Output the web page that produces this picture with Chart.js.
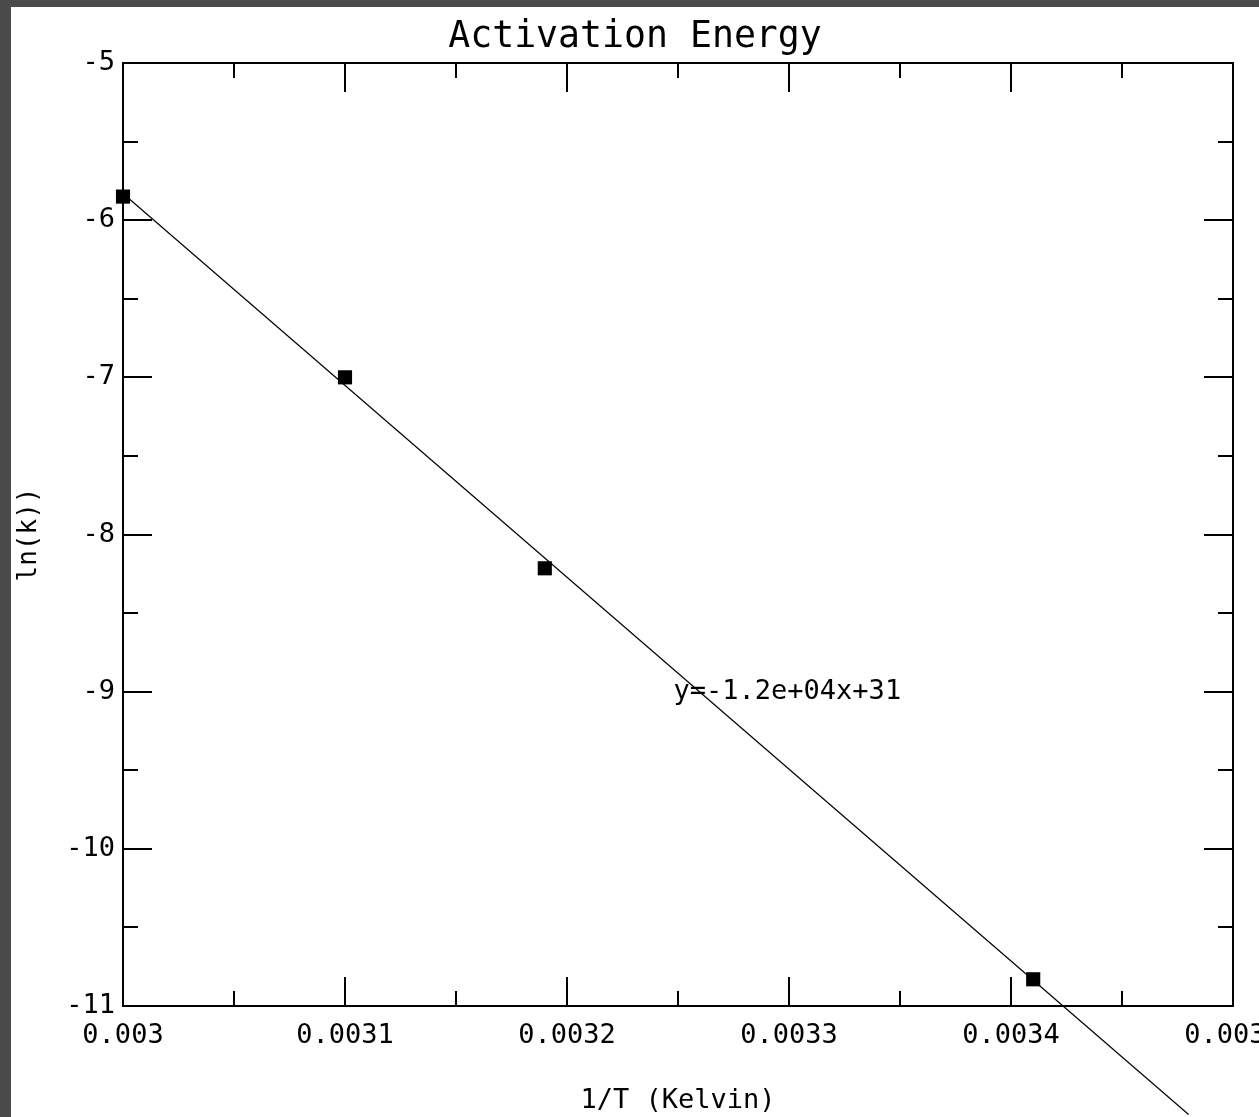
<!DOCTYPE html>
<html>
<head>
<meta charset="utf-8">
<script src="https://cdn.jsdelivr.net/npm/chart.js@4/dist/chart.umd.min.js"></script>
<style>
    html, body { margin: 0; padding: 0; background: #4b4b4b; overflow: hidden; }
    #wrap { position: absolute; left: 11px; top: 7px; width: 1248px; height: 1110px; background: #ffffff; }
</style>
</head>
<body>
<div id="wrap"><canvas id="chart"></canvas></div>
<script>
// measured points
const invT = [0.003, 0.0031, 0.00319, 0.00341];
const lnK = [-5.85, -7.0, -8.215, -10.83];

// fitted line (two end points)
const fitX = [0.003, 0.00348];
const fitY = [-5.83, -11.69];

// ticks
const xTicks = [0.003, 0.0031, 0.0032, 0.0033, 0.0034, 0.0035];
const xTickLabels = ['0.003', '0.0031', '0.0032', '0.0033', '0.0034', '0.0035'];
const xMinor = [0.00305, 0.00315, 0.00325, 0.00335, 0.00345];
const yTicks = [-11, -10, -9, -8, -7, -6, -5];
const yTickLabels = ['-11', '-10', '-9', '-8', '-7', '-6', '-5'];
const yMinor = [-10.5, -9.5, -8.5, -7.5, -6.5, -5.5];

const fitLabel = 'y=-1.2e+04x+31';
const fitLabelAt = { x: 0.003248, y: -9 };

const mono = 'DejaVu Sans Mono';

// frame, inward ticks on all four sides, and the fit label
const framePlugin = {
    id: 'frame',
    afterDatasetsDraw(chart) {
        const ctx = chart.ctx;
        const area = chart.chartArea;
        const xs = chart.scales.x;
        const ys = chart.scales.y;
        ctx.save();
        ctx.strokeStyle = '#000';
        ctx.lineWidth = 2;
        ctx.strokeRect(area.left, area.top, area.right - area.left, area.bottom - area.top);

        ctx.beginPath();
        const xTick = (v, len) => {
            const px = Math.round(xs.getPixelForValue(v));
            ctx.moveTo(px, area.bottom); ctx.lineTo(px, area.bottom - len);
            ctx.moveTo(px, area.top); ctx.lineTo(px, area.top + len);
        };
        const yTick = (v, len) => {
            const py = Math.round(ys.getPixelForValue(v));
            ctx.moveTo(area.left, py); ctx.lineTo(area.left + len, py);
            ctx.moveTo(area.right, py); ctx.lineTo(area.right - len, py);
        };
        xTicks.forEach(v => xTick(v, 29));
        xMinor.forEach(v => xTick(v, 15));
        yTicks.forEach(v => yTick(v, 29));
        yMinor.forEach(v => yTick(v, 15));
        ctx.stroke();

        ctx.fillStyle = '#000';
        ctx.font = '27px "' + mono + '"';
        ctx.textAlign = 'left';
        ctx.textBaseline = 'middle';
        ctx.fillText(fitLabel, xs.getPixelForValue(fitLabelAt.x), ys.getPixelForValue(fitLabelAt.y));
        ctx.restore();
    }
};

const ctx = document.getElementById('chart').getContext('2d');
new Chart(ctx, {
    type: 'scatter',
    data: {
        datasets: [
            {
                label: 'fit',
                type: 'line',
                data: fitX.map((x, i) => ({ x: x, y: fitY[i] })),
                borderColor: '#000',
                borderWidth: 1.2,
                pointRadius: 0,
                fill: false,
                clip: false,
            },
            {
                label: 'data',
                data: invT.map((x, i) => ({ x: x, y: lnK[i] })),
                pointStyle: 'rect',
                pointRadius: 10,
                backgroundColor: '#000',
                borderColor: '#000',
                borderWidth: 0,
                clip: false,
            }
        ]
    },
    options: {
        responsive: true,
        maintainAspectRatio: false,
        animation: false,
        plugins: {
            legend: { display: false },
            tooltip: { enabled: false },
            title: {
                display: true,
                text: 'Activation Energy',
                color: '#000',
                font: { family: mono, size: 36.5, weight: 'normal', lineHeight: 1.2 },
                padding: { top: 9, bottom: 3.2 },
            }
        },
        scales: {
            x: {
                type: 'linear',
                min: 0.003,
                max: 0.0035,
                grid: { display: false, drawTicks: false },
                border: { display: false },
                afterBuildTicks: scale => { scale.ticks = xTicks.map(v => ({ value: v })); },
                ticks: {
                    color: '#000',
                    padding: 14,
                    maxRotation: 0,
                    autoSkip: false,
                    font: { family: mono, size: 27 },
                    callback: (v, i) => xTickLabels[i],
                },
                title: {
                    display: true,
                    text: '1/T (Kelvin)',
                    color: '#000',
                    font: { family: mono, size: 27 },
                    padding: { top: 0, bottom: 0 },
                },
                afterFit: scale => {
                    scale.height = 111;
                    scale.paddingRight = 26;
                    scale.paddingLeft = 0;
                },
            },
            y: {
                type: 'linear',
                min: -11,
                max: -5,
                grid: { display: false, drawTicks: false },
                border: { display: false },
                afterBuildTicks: scale => { scale.ticks = yTicks.map(v => ({ value: v })); },
                ticks: {
                    color: '#000',
                    padding: 8,
                    autoSkip: false,
                    font: { family: mono, size: 27 },
                    callback: (v, i) => yTickLabels[i],
                },
                title: {
                    display: true,
                    text: 'ln(k))',
                    color: '#000',
                    font: { family: mono, size: 26 },
                    padding: { top: 3, bottom: 0 },
                },
                afterFit: scale => { scale.width = 112; },
            }
        }
    },
    plugins: [framePlugin]
});
</script>
</body>
</html>
